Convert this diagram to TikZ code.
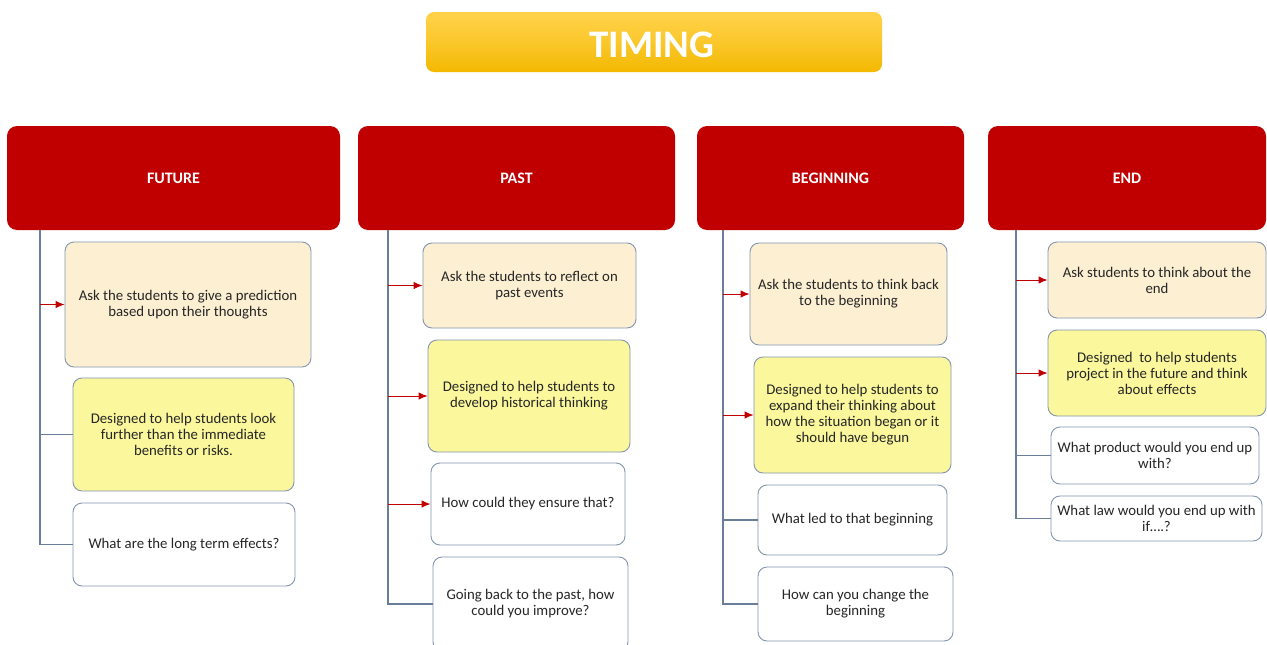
\documentclass[tikz,border=0pt]{standalone}
\usepackage{fontspec}
\setmainfont{Carlito}
\usetikzlibrary{arrows.meta}
\definecolor{hdrred}{HTML}{C00000}
\definecolor{peach}{HTML}{FCEFD2}
\definecolor{lemon}{HTML}{FAF79C}
\definecolor{edge}{HTML}{8496B0}
\definecolor{trunkc}{HTML}{6A7E9C}
\definecolor{ink}{HTML}{262626}
\definecolor{goldtop}{HTML}{FFD24A}
\definecolor{goldbot}{HTML}{F3B800}
\tikzset{
  header/.style={fill=hdrred, rounded corners=10pt, text=white, inner sep=0pt,
    font=\fontsize{16}{18}\selectfont\bfseries},
  card/.style={draw=edge, line width=0.9pt, rounded corners=9pt, inner sep=0pt,
    align=center, text=ink, font=\fontsize{14.8}{16}\selectfont},
  peachcard/.style={card, fill=peach},
  lemoncard/.style={card, fill=lemon},
  whitecard/.style={card, fill=white},
  trunk/.style={draw=trunkc, line width=1.1pt},
  redarrow/.style={draw=hdrred, line width=1pt, -{Latex[length=9pt,width=7.5pt]}},
}
\begin{document}
\begin{tikzpicture}[x=1pt,y=-1pt]
\clip (0,0) rectangle (1267,645);
\fill[white] (0,0) rectangle (1267,645);

% title banner
\node[rounded corners=8pt, top color=goldtop, bottom color=goldbot,
      middle color=goldtop!60!goldbot, minimum width=456pt, minimum height=60pt,
      inner sep=0pt] (title) at (654,42) {};
\node[text=white, font=\fontsize{39}{42}\selectfont\bfseries] (titletxt) at (652,45) {TIMING};

% column headers
\node[header, minimum width=333pt, minimum height=104pt] (fh) at (173.5,178) {FUTURE};
\node[header, minimum width=317pt, minimum height=104pt] (ph) at (516.5,178) {PAST};
\node[header, minimum width=267pt, minimum height=104pt] (bh) at (830.5,178) {BEGINNING};
\node[header, minimum width=278pt, minimum height=104pt] (eh) at (1127,178) {END};

% FUTURE column
\node[peachcard, minimum width=246pt, minimum height=125pt] (f1) at (188,304.5)
  {Ask the students to give a prediction\\based upon their thoughts};
\node[lemoncard, minimum width=221pt, minimum height=113pt] (f2) at (183.5,434.5)
  {Designed to help students look\\further than the immediate\\benefits or risks.};
\node[whitecard, minimum width=222pt, minimum height=83pt] (f3) at (184,544.5)
  {What are the long term effects?};

% PAST column
\node[peachcard, minimum width=213pt, minimum height=85pt] (p1) at (529.5,285.5)
  {Ask the students to reflect on\\past events};
\node[lemoncard, minimum width=202pt, minimum height=112pt] (p2) at (529,396)
  {Designed to help students to\\develop historical thinking};
\node[whitecard, minimum width=194pt, minimum height=82pt] (p3) at (528,504)
  {How could they ensure that?};
\node[whitecard, minimum width=195pt, minimum height=94pt] (p4) at (530.5,604)
  {Going back to the past, how\\could you improve?};

% BEGINNING column
\node[peachcard, minimum width=197pt, minimum height=102pt] (b1) at (848.5,294)
  {Ask the students to think back\\to the beginning};
\node[lemoncard, minimum width=197pt, minimum height=116pt] (b2) at (852.5,415)
  {Designed to help students to\\expand their thinking about\\how the situation began or it\\should have begun};
\node[whitecard, minimum width=189pt, minimum height=70pt] (b3) at (852.5,520)
  {What led to that beginning};
\node[whitecard, minimum width=195pt, minimum height=74pt] (b4) at (855.5,604)
  {How can you change the\\beginning};

% END column
\node[peachcard, minimum width=218pt, minimum height=76pt] (e1) at (1157,280)
  {Ask students to think about the\\end};
\node[lemoncard, minimum width=218pt, minimum height=86pt] (e2) at (1157,373)
  {Designed~ to help students\\project in the future and think\\about effects};
\node[whitecard, minimum width=208pt, minimum height=57pt] (e3) at (1155,455.5)
  {What product would you end up\\with?};
\node[whitecard, minimum width=211pt, minimum height=45pt] (e4) at (1156.5,518.5)
  {What law would you end up with\\if\dots.?};

% trunk lines below each header
\coordinate (ft) at (40,230);
\coordinate (pt) at (388,230);
\coordinate (bt) at (723,230);
\coordinate (et) at (1016,230);

\draw[trunk] (ft) |- (f3.west);
\draw[trunk] (ft |- f2.west) -- (f2.west);
\draw[redarrow] (ft |- f1.west) -- (f1.west);

\draw[trunk] (pt) |- (p4.west);
\draw[redarrow] (pt |- p1.west) -- (p1.west);
\draw[redarrow] (pt |- p2.west) -- (p2.west);
\draw[redarrow] (pt |- p3.west) -- (p3.west);

\draw[trunk] (bt) |- (b4.west);
\draw[trunk] (bt |- b3.west) -- (b3.west);
\draw[redarrow] (bt |- b1.west) -- (b1.west);
\draw[redarrow] (bt |- b2.west) -- (b2.west);

\draw[trunk] (et) |- (e4.west);
\draw[trunk] (et |- e3.west) -- (e3.west);
\draw[redarrow] (et |- e1.west) -- (e1.west);
\draw[redarrow] (et |- e2.west) -- (e2.west);
\end{tikzpicture}
\end{document}
